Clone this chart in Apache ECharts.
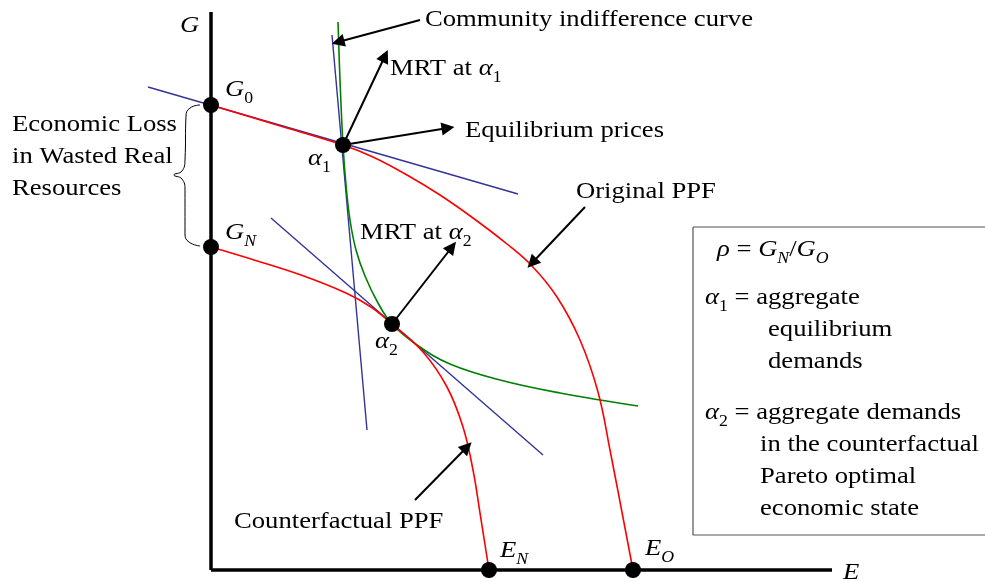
<!DOCTYPE html>
<html>
<head>
<meta charset="utf-8">
<script src="https://cdn.jsdelivr.net/npm/echarts@6/dist/echarts.min.js"></script>
<style>
  html, body { margin: 0; padding: 0; background: #fff; }
  #main { width: 985px; height: 581px; }
</style>
</head>
<body>
<div id="main"></div>
<script>
// all values are [E, G] (origin at the axes' corner)
var originalPPF = [[0, 465], [66, 445], [132, 425], [162, 413], [196, 395], [229, 375], [262, 352], [296, 326], [321, 304], [346, 273], [369, 230], [387, 178], [399, 120], [422, 0]];
var counterPPF = [[0, 323], [40, 311], [90, 295], [135, 277], [160, 263], [181, 246], [212, 218], [236, 183], [252, 143], [262, 100], [269, 57], [278, 0]];
var indifference = [[127, 548], [129, 490], [132, 425], [135, 385], [139, 350], [145, 320], [154, 294], [167, 267], [181, 246], [206, 225], [239, 206], [289, 190], [349, 177], [427, 164]];
var priceLine = [[-63, 483], [307, 376]];
var mrtLine1 = [[121, 535], [156, 140]];
var mrtLine2 = [[60, 352], [332, 115]];
var keyPoints = [[0, 465], [0, 323], [132, 425], [181, 246], [278, 0], [422, 0]];
var gAxis = [[0, 0], [0, 558]];
var eAxis = [[0, 0], [621, 0]];
var brace = [[-11, 465], [-21, 462], [-25, 454], [-26, 410], [-29, 399], [-37, 395], [-29, 391], [-26, 380], [-26, 336], [-22, 328], [-11, 324]];
var legendBox = [[482, 343], [790, 343], [790, 35], [482, 35], [482, 343]];
var arrows = [
  [[209, 550], [127, 528]],
  [[132, 425], [174, 514]],
  [[132, 425], [237, 442]],
  [[181, 246], [241, 323]],
  [[374, 363], [321, 307]],
  [[204, 70], [256, 123]]
];

var labelText = [
  '{i|G}', '{i|E}',
  'Community indifference curve', 'MRT at {i|α}{s|1}', 'Equilibrium prices',
  'Original PPF', 'MRT at {i|α}{s|2}', 'Counterfactual PPF',
  'Economic Loss', 'in Wasted Real', 'Resources',
  '{i|G}{s|0}', '{i|G}{si|N}', '{i|α}{s|1}', '{i|α}{s|2}', '{i|E}{si|N}', '{i|E}{si|O}',
  '{i|ρ} = {i|G}{si|N}/{i|G}{si|O}', '{i|α}{s|1} = aggregate', 'equilibrium', 'demands',
  '{i|α}{s|2} = aggregate demands', 'in the counterfactual', 'Pareto optimal', 'economic state'
];
var labelAt = [
  [-31, 544], [632, -3],
  [214, 550], [179, 501], [254, 439],
  [365, 378], [149, 337], [23, 48],
  [-199, 445], [-199, 413], [-199, 381],
  [14, 480], [14, 337], [97, 411], [164, 228], [289, 19], [434, 21],
  [506, 320], [494, 272], [557, 240], [557, 208],
  [494, 157], [549, 125], [549, 93], [549, 61]
];

var FONT = '"Liberation Serif", "Times New Roman", serif';
var SX = 1.11;

function curve(data, color, width, smooth) {
  return {
    type: 'line', data: data, showSymbol: false, smooth: smooth, clip: false,
    lineStyle: { color: color, width: width }, silent: true, z: 2
  };
}

var myChart = echarts.init(document.getElementById('main'));
myChart.setOption({
  animation: false,
  backgroundColor: '#fff',
  grid: { left: 0, right: 0, top: 0, bottom: 11 },
  xAxis: { type: 'value', min: -211, max: 774, show: false },
  yAxis: { type: 'value', min: 0, max: 570, show: false },
  series: [
    curve(gAxis, '#000', 3.5, false),
    curve(eAxis, '#000', 3.5, false),
    curve(legendBox, '#555', 1.2, false),
    curve(brace, '#000', 1, 0.5),
    curve(priceLine, '#333399', 1.4, false),
    curve(mrtLine1, '#333399', 1.4, false),
    curve(mrtLine2, '#333399', 1.4, false),
    curve(indifference, '#008000', 1.6, 0.4),
    curve(originalPPF, '#ff0000', 1.6, 0.4),
    curve(counterPPF, '#ff0000', 1.6, 0.4),
    {
      type: 'lines', coordinateSystem: 'cartesian2d', silent: true, z: 4,
      symbol: ['none', 'triangle'], symbolSize: [9, 13],
      lineStyle: { color: '#000', width: 2, opacity: 1 },
      itemStyle: { color: '#000' },
      data: arrows.map(function (a) { return { coords: a }; })
    },
    {
      type: 'scatter', data: keyPoints, symbolSize: 16, clip: false, silent: true, z: 5,
      itemStyle: { color: '#000', opacity: 1 }
    },
    {
      type: 'custom', clip: false, silent: true, z: 6,
      data: labelAt,
      renderItem: function (params, api) {
        var p = api.coord([api.value(0), api.value(1)]);
        return {
          type: 'text', x: p[0], y: p[1], scaleX: SX,
          style: {
            text: labelText[params.dataIndex],
            fill: '#000', fontFamily: FONT, fontSize: 24, lineHeight: 34,
            align: 'left', verticalAlign: 'middle',
            rich: {
              i: { fontFamily: FONT, fontStyle: 'italic', fontSize: 24, lineHeight: 34 },
              s: { fontFamily: FONT, fontSize: 16, lineHeight: 18, verticalAlign: 'bottom' },
              si: { fontFamily: FONT, fontStyle: 'italic', fontSize: 16, lineHeight: 18, verticalAlign: 'bottom' }
            }
          }
        };
      }
    }
  ]
});
</script>
</body>
</html>
